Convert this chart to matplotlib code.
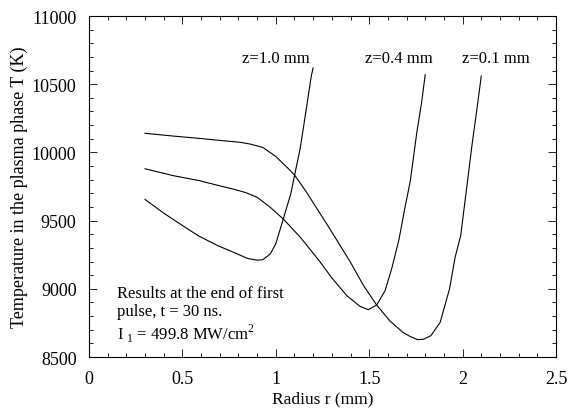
import numpy as np
import matplotlib.pyplot as plt
from matplotlib.ticker import MultipleLocator, FuncFormatter

plt.rcParams['font.family'] = ['Liberation Serif', 'DejaVu Serif']
plt.rcParams['mathtext.fontset'] = 'custom'
plt.rcParams['mathtext.rm'] = 'Liberation Serif'

# z = 1.0 mm
r_10 = [0.30, 0.40, 0.51, 0.59, 0.69, 0.77, 0.85, 0.90, 0.93, 0.97, 1.00, 1.04, 1.08, 1.10,
        1.13, 1.15, 1.19, 1.20]
T_10 = [9655, 9555, 9455, 9385, 9316, 9270, 9222, 9210, 9213, 9255, 9330, 9512, 9695, 9829,
        10025, 10200, 10560, 10620]

# z = 0.4 mm
r_04 = [0.30, 0.45, 0.59, 0.70, 0.77, 0.84, 0.90, 0.97, 1.04, 1.13, 1.23, 1.30, 1.38, 1.45,
        1.495, 1.54, 1.585, 1.62, 1.66, 1.69, 1.72, 1.755, 1.78, 1.80]
T_04 = [9880, 9830, 9793, 9755, 9732, 9705, 9671, 9598, 9512, 9380, 9210, 9080, 8950, 8872,
        8847, 8881, 8986, 9145, 9365, 9585, 9790, 10147, 10360, 10570]

# z = 0.1 mm
r_01 = [0.30, 0.45, 0.59, 0.70, 0.81, 0.86, 0.93, 1.00, 1.06, 1.10, 1.165, 1.23, 1.29, 1.40,
        1.47, 1.54, 1.61, 1.68, 1.72, 1.76, 1.79, 1.83, 1.88, 1.93, 1.96, 1.99, 2.02, 2.05,
        2.075, 2.10]
T_01 = [10140, 10120, 10103, 10088, 10074, 10062, 10037, 9970, 9891, 9835, 9707, 9567, 9438, 9194,
        9023, 8881, 8766, 8681, 8650, 8627, 8630, 8656, 8754, 8999, 9231, 9390, 9720, 10050,
        10300, 10560]

labels = ['z=1.0 mm', 'z=0.4 mm', 'z=0.1 mm']
label_r = [1.0, 1.66, 2.18]

fig = plt.figure(figsize=(5.72, 4.10), dpi=100)
ax = fig.add_axes([0.1556, 0.1268, 0.8164, 0.8317])

for r, T in [(r_10, T_10), (r_04, T_04), (r_01, T_01)]:
    ax.plot(r, T, color='black', lw=0.8)

for lab, x in zip(labels, label_r):
    ax.text(x, 10690, lab, ha='center', va='center', fontsize=12)

ax.text(0.15, 8970, 'Results at the end of first', fontsize=12, va='center')
ax.text(0.15, 8840, 'pulse, t = 30 ns.', fontsize=12, va='center')
ax.text(0.15, 8680, r'I$_{\ 1}$ = 499.8 MW/cm$^2$', fontsize=12, va='center')

ax.set_xlim(0, 2.5)
ax.set_ylim(8500, 11000)
ax.xaxis.set_major_locator(MultipleLocator(0.5))
ax.xaxis.set_minor_locator(MultipleLocator(0.1))
ax.yaxis.set_major_locator(MultipleLocator(500))
ax.yaxis.set_minor_locator(MultipleLocator(100))
ax.xaxis.set_major_formatter(FuncFormatter(lambda v, p: '%g' % v))
ax.tick_params(which='both', direction='in', top=True, right=True, labelsize=13, width=0.6)
ax.tick_params(which='major', length=6, pad=9)
ax.tick_params(which='minor', length=3)
for s in ax.spines.values():
    s.set_linewidth(0.8)

ax.set_xlabel('Radius r (mm)', fontsize=12.5, labelpad=3)
ax.set_ylabel('Temperature in the plasma phase T (K)', fontsize=13, labelpad=3)

fig.savefig('out.png', dpi=100)
